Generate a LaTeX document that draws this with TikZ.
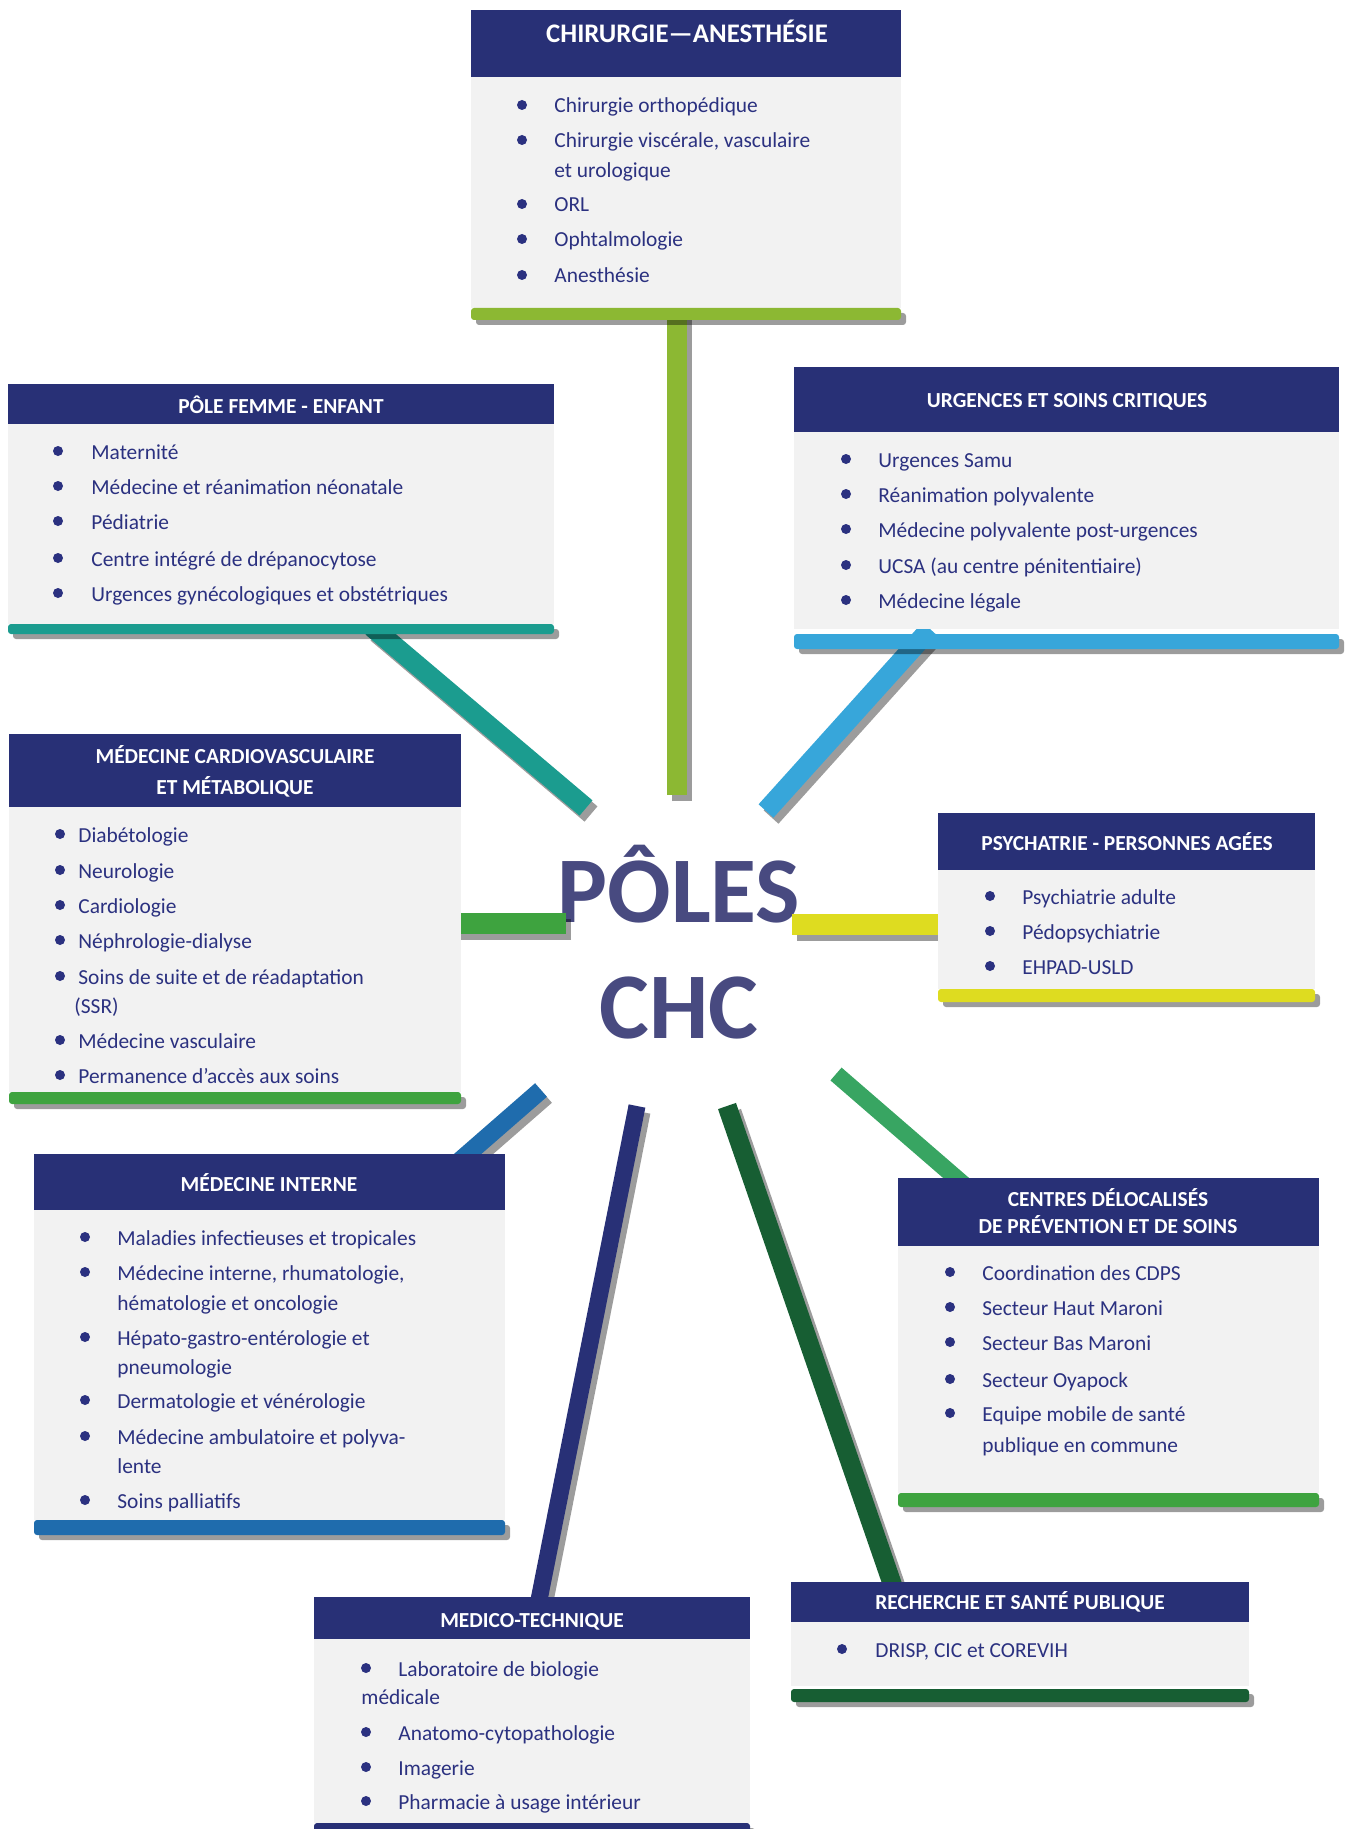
\documentclass[tikz,border=0pt]{standalone}
\usepackage{fontspec}
\setmainfont{Carlito}
\usetikzlibrary{calc}

\definecolor{navy}{HTML}{283076}
\definecolor{panel}{HTML}{F2F2F2}
\definecolor{ink}{HTML}{2B3180}
\definecolor{titleink}{HTML}{484A80}
\definecolor{cOlive}{HTML}{8CB833}
\definecolor{cTeal}{HTML}{1B9C8F}
\definecolor{cSky}{HTML}{37A6DA}
\definecolor{cYellow}{HTML}{DEDC20}
\definecolor{cGreen}{HTML}{3EA33F}
\definecolor{cBlue}{HTML}{1F6CAD}
\definecolor{cDark}{HTML}{175E33}
\definecolor{cMint}{HTML}{38A562}

\tikzset{
  head/.style={font=\bfseries\fontsize{10.7pt}{13pt}\selectfont, text=white, anchor=base, inner sep=0pt},
  itm/.style={font=\fontsize{10.7pt}{13pt}\selectfont, text=ink, anchor=base west, inner sep=0pt},
  castshadow/.style={black, opacity=0.39},
  spokeshadow/.style={black, opacity=0.39, line cap=butt, transform canvas={xshift=2.5pt,yshift=-3pt}},
  hubtitle/.style={font=\bfseries\fontsize{47pt}{50pt}\selectfont, text=titleink, anchor=base, inner sep=0pt},
}

% one spoke: hub end, box end, colour, width
\newcommand\spoke[4]{%
  \draw[spokeshadow, line width=#4] (#1) -- (#2);
  \draw[#3, line width=#4, line cap=butt] (#1) -- (#2);}
% bare spoke without cast shadow
\newcommand\flatspoke[4]{%
  \draw[#3, line width=#4, line cap=butt] (#1) -- (#2);}

% box: x1, x2, top, header bottom, panel bottom, bar top, bar bottom, bar colour
\newcommand\polebox[8]{%
  \fill[navy] (#1,#3) rectangle (#2,#4);
  \fill[panel] (#1,#4) rectangle (#2,#5);
  \fill[castshadow, rounded corners=1.5pt] (#1+5,#6+5) rectangle (#2+5,#7+5);
  \fill[#8, rounded corners=1.5pt] (#1,#6) rectangle (#2,#7);}

% bulleted line: name, bullet x, text x, baseline y, text
\newcommand\bitem[5]{%
  \fill[ink] (#2,#4-8) circle[radius=2.5pt];
  \node[itm] (#1) at (#3,#4) {#5};}
% continuation line: name, text x, baseline y, text
\newcommand\wrapline[4]{\node[itm] (#1) at (#2,#3) {#4};}

\begin{document}
\begin{tikzpicture}[x=0.5pt,y=-0.5pt]
\useasboundingbox (0,0) rectangle (1347,1829);

% ---------- hub ----------
\node[hubtitle] (poles) at (679,922) {PÔLES};
\node[hubtitle] (chc) at (679,1038) {CHC};

% ---------- spoke end points ----------
\coordinate (hubChir) at (677,795);   \coordinate (endChir) at (677,312);
\coordinate (hubFem)  at (586,808);   \coordinate (endFem)  at (372,627);
\coordinate (hubUrg)  at (766,811);   \coordinate (endUrg)  at (930,629);
\coordinate (hubPsy)  at (792,924);   \coordinate (endPsy)  at (945,924);
\coordinate (hubCar)  at (566,923);   \coordinate (endCar)  at (455,923);
\coordinate (hubInt)  at (541,1090);  \coordinate (endInt)  at (455,1165);
\coordinate (hubMed)  at (637,1106);  \coordinate (endMed)  at (537,1610);
\coordinate (hubRec)  at (727,1106);  \coordinate (endRec)  at (896,1595);
\coordinate (hubCen)  at (836,1074);  \coordinate (endCen)  at (970,1190);

\spoke{hubChir}{endChir}{cOlive}{10pt}
\spoke{hubFem}{endFem}{cTeal}{10pt}
\spoke{hubUrg}{endUrg}{cSky}{10pt}
\spoke{hubPsy}{endPsy}{cYellow}{10.5pt}
\spoke{hubCar}{endCar}{cGreen}{10.5pt}
\spoke{hubInt}{endInt}{cBlue}{9pt}
\spoke{hubMed}{endMed}{navy}{8.5pt}
\spoke{hubRec}{endRec}{cDark}{9.5pt}
\flatspoke{hubCen}{endCen}{cMint}{8.5pt}

% ---------- CHIRURGIE ----------
\polebox{471}{901}{10}{77}{308}{308}{320}{cOlive}
\node[head, font=\bfseries\fontsize{13.4pt}{15pt}\selectfont] (tChir) at (687,43) {CHIRURGIE—ANESTHÉSIE};
\bitem{ch1}{522}{554}{113}{Chirurgie orthopédique}
\bitem{ch2}{522}{554}{148}{Chirurgie viscérale, vasculaire}
\wrapline{ch2b}{554}{178}{et urologique}
\bitem{ch3}{522}{554}{212}{ORL}
\bitem{ch4}{522}{554}{247}{Ophtalmologie}
\bitem{ch5}{522}{554}{283}{Anesthésie}

% ---------- FEMME - ENFANT ----------
\polebox{8}{554}{384}{424}{624}{624}{634}{cTeal}
\node[head] (tFem) at (281,413) {PÔLE FEMME - ENFANT};
\bitem{fe1}{58}{91}{459}{Maternité}
\bitem{fe2}{58}{91}{494}{Médecine et réanimation néonatale}
\bitem{fe3}{58}{91}{529}{Pédiatrie}
\bitem{fe4}{58}{91}{566}{Centre intégré de drépanocytose}
\bitem{fe5}{58}{91}{601}{Urgences gynécologiques et obstétriques}

% ---------- URGENCES ----------
\polebox{794}{1339}{367}{432}{629}{634}{649}{cSky}
\node[head] (tUrg) at (1067,408) {URGENCES ET SOINS CRITIQUES};
\bitem{ur1}{846}{878}{467}{Urgences Samu}
\bitem{ur2}{846}{878}{502}{Réanimation polyvalente}
\bitem{ur3}{846}{878}{537}{Médecine polyvalente post-urgences}
\bitem{ur4}{846}{878}{573}{UCSA (au centre pénitentiaire)}
\bitem{ur5}{846}{878}{608}{Médecine légale}

% ---------- PSYCHIATRIE ----------
\polebox{938}{1315}{813}{870}{989}{989}{1002}{cYellow}
\node[head] (tPsy) at (1127,850) {PSYCHATRIE - PERSONNES AGÉES};
\bitem{ps1}{990}{1022}{904}{Psychiatrie adulte}
\bitem{ps2}{990}{1022}{939}{Pédopsychiatrie}
\bitem{ps3}{990}{1022}{974}{EHPAD-USLD}

% ---------- CARDIOVASCULAIRE ----------
\polebox{9}{461}{734}{807}{1092}{1092}{1104}{cGreen}
\node[head] (tCar1) at (235,763) {MÉDECINE CARDIOVASCULAIRE};
\node[head] (tCar2) at (235,794) {ET MÉTABOLIQUE};
\bitem{ca1}{60}{78}{842}{Diabétologie}
\bitem{ca2}{60}{78}{878}{Neurologie}
\bitem{ca3}{60}{78}{913}{Cardiologie}
\bitem{ca4}{60}{78}{948}{Néphrologie-dialyse}
\bitem{ca5}{60}{78}{984}{Soins de suite et de réadaptation}
\wrapline{ca5b}{74}{1013}{(SSR)}
\bitem{ca6}{60}{78}{1048}{Médecine vasculaire}
\bitem{ca7}{60}{78}{1083}{Permanence d’accès aux soins}

% ---------- MEDECINE INTERNE ----------
\polebox{34}{505}{1154}{1210}{1520}{1520}{1535}{cBlue}
\node[head] (tInt) at (269,1191) {MÉDECINE INTERNE};
\bitem{in1}{85}{117}{1245}{Maladies infectieuses et tropicales}
\bitem{in2}{85}{117}{1280}{Médecine interne, rhumatologie,}
\wrapline{in2b}{117}{1310}{hématologie et oncologie}
\bitem{in3}{85}{117}{1345}{Hépato-gastro-entérologie et}
\wrapline{in3b}{117}{1374}{pneumologie}
\bitem{in4}{85}{117}{1408}{Dermatologie et vénérologie}
\bitem{in5}{85}{117}{1444}{Médecine ambulatoire et polyva-}
\wrapline{in5b}{117}{1473}{lente}
\bitem{in6}{85}{117}{1508}{Soins palliatifs}

% ---------- MEDICO-TECHNIQUE ----------
\polebox{314}{750}{1597}{1639}{1823}{1823}{1835}{navy}
\node[head] (tMed) at (532,1627) {MEDICO-TECHNIQUE};
\bitem{me1}{366}{398}{1676}{Laboratoire de biologie}
\wrapline{me1b}{361}{1704}{médicale}
\bitem{me2}{366}{398}{1740}{Anatomo-cytopathologie}
\bitem{me3}{366}{398}{1775}{Imagerie}
\bitem{me4}{366}{398}{1809}{Pharmacie à usage intérieur}

% ---------- RECHERCHE ----------
\polebox{791}{1249}{1582}{1622}{1686}{1689}{1702}{cDark}
\node[head] (tRec) at (1020,1609) {RECHERCHE ET SANTÉ PUBLIQUE};
\bitem{re1}{842}{875}{1657}{DRISP, CIC et COREVIH}

% ---------- CENTRES DELOCALISES ----------
\polebox{898}{1319}{1178}{1246}{1493}{1493}{1507}{cGreen}
\node[head] (tCen1) at (1108,1206) {CENTRES DÉLOCALISÉS};
\node[head] (tCen2) at (1108,1233) {DE PRÉVENTION ET DE SOINS};
\bitem{ce1}{950}{982}{1280}{Coordination des CDPS}
\bitem{ce2}{950}{982}{1315}{Secteur Haut Maroni}
\bitem{ce3}{950}{982}{1350}{Secteur Bas Maroni}
\bitem{ce4}{950}{982}{1387}{Secteur Oyapock}
\bitem{ce5}{950}{982}{1421}{Equipe mobile de santé}
\wrapline{ce5b}{982}{1452}{publique en commune}

\end{tikzpicture}
\end{document}
